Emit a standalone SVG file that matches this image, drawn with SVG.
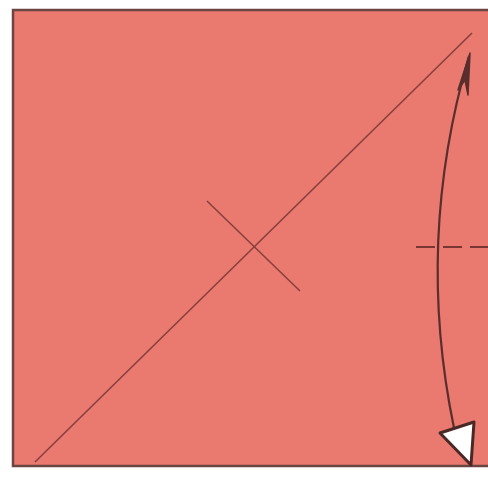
<svg xmlns="http://www.w3.org/2000/svg" width="488" height="488" viewBox="0 0 488 488">
<style>
.crease{stroke:#8a3f3c;stroke-width:1.6;fill:none}
.valley{stroke:#7a3633;stroke-width:2.2;stroke-dasharray:19 8;fill:none}
.arrow{stroke:#5a2e2c;stroke-width:2.2;fill:none}
</style>
<rect width="488" height="488" fill="#ffffff"/>
<g id="paper">
<rect x="13" y="10" width="480" height="456" fill="#ea7a70" stroke="#6b4542" stroke-width="2.5"/>
</g>
<g id="connectors">
<line class="crease" x1="35" y1="462" x2="472" y2="33"/>
<line class="crease" x1="207" y1="201" x2="300" y2="291"/>
<line class="valley" x1="416" y1="247" x2="488" y2="247"/>
<path class="arrow" d="M469 56 Q415 240 454 428"/>
<path d="M470 53 L458 90 L465 80 L468 95 Z" fill="#5a2e2c" stroke="#5a2e2c" stroke-width="1.5" stroke-linejoin="round"/>
<polygon points="440,433 474,422 471,465" fill="#ffffff" stroke="#4a2826" stroke-width="3" stroke-linejoin="round"/>
</g>
</svg>
